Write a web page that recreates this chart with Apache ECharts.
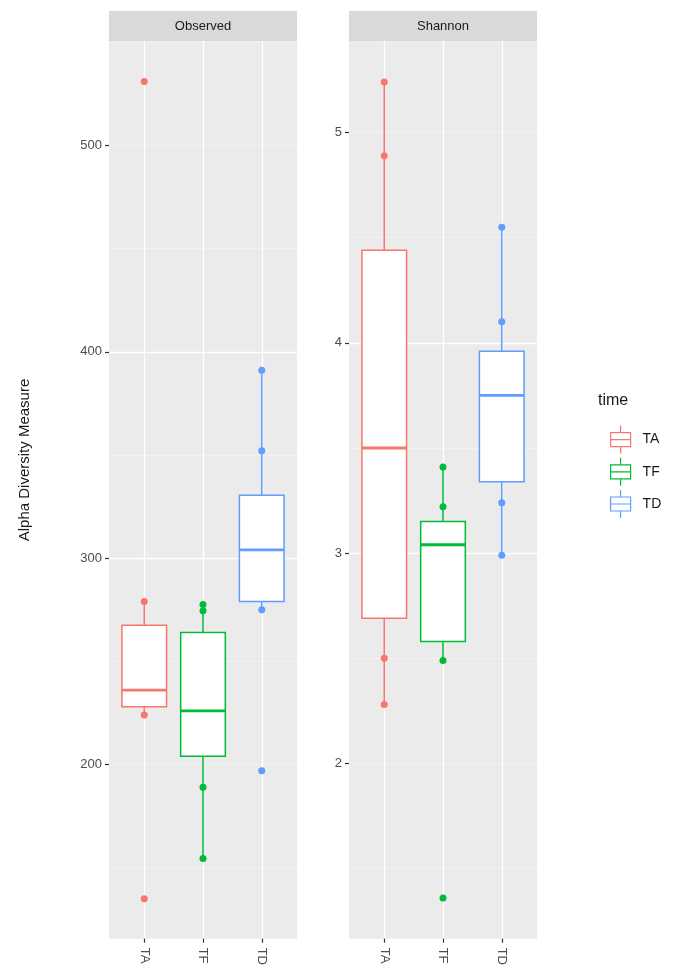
<!DOCTYPE html>
<html>
<head>
<meta charset="utf-8">
<title>Alpha Diversity</title>
<script src="https://cdn.jsdelivr.net/npm/echarts@6/dist/echarts.min.js"></script>
<style>html,body{margin:0;padding:0;background:#fff;}</style>
</head>
<body>
<div id="main" style="width:673px;height:968px;"></div>
<script type="text/javascript">
var groups = ['TA', 'TF', 'TD'];
var groupColors = ['#F8766D', '#00BA38', '#619CFF'];
var panels = ['Observed', 'Shannon'];

// box stats per group: [lower whisker, Q1, median, Q3, upper whisker]
var observedBoxes = [
    [224, 228, 236, 267.5, 279],
    [154.5, 204, 226, 264, 277.5],
    [275, 279, 304, 330.5, 391]
];
var observedPoints = [
    [531, 279, 224, 135],
    [277.5, 274.5, 189, 154.5],
    [391, 352, 275, 197]
];
var shannonBoxes = [
    [2.28, 2.69, 3.50, 4.44, 5.24],
    [2.49, 2.58, 3.04, 3.15, 3.41],
    [2.99, 3.34, 3.75, 3.96, 4.55]
];
var shannonPoints = [
    [5.24, 4.89, 2.50, 2.28],
    [3.41, 3.22, 2.49, 1.36],
    [4.55, 4.10, 3.24, 2.99]
];
var observedTicks = [200, 300, 400, 500];
var shannonTicks = [2, 3, 4, 5];
var observedRange = [115.6, 550.6];
var shannonRange = [1.167, 5.435];
var groupPos = [1, 2, 3];

var chartDom = document.getElementById('main');
var myChart = echarts.init(chartDom);
var option;

var FONT = '"Liberation Sans", Arial, sans-serif';
var panelLeft = [109, 349];
var panelWidth = 188;
var panelTop = 41;
var panelHeight = 902;

var boxes = [observedBoxes, shannonBoxes];
var points = [observedPoints, shannonPoints];
var ticks = [observedTicks, shannonTicks];
var ranges = [observedRange, shannonRange];

function renderBox(params, api) {
    var x = api.value(0);
    var lo = api.coord([x, api.value(1)]);
    var q1 = api.coord([x, api.value(2)]);
    var md = api.coord([x, api.value(3)]);
    var q3 = api.coord([x, api.value(4)]);
    var hi = api.coord([x, api.value(5)]);
    var half = api.size([0.76, 0])[0] / 2;
    var color = api.visual('color');
    return {
        type: 'group',
        children: [{
            type: 'line',
            shape: { x1: hi[0], y1: hi[1], x2: q3[0], y2: q3[1] },
            style: { stroke: color, lineWidth: 1.5 }
        }, {
            type: 'line',
            shape: { x1: q1[0], y1: q1[1], x2: lo[0], y2: lo[1] },
            style: { stroke: color, lineWidth: 1.5 }
        }, {
            type: 'rect',
            shape: { x: q3[0] - half, y: q3[1], width: half * 2, height: q1[1] - q3[1] },
            style: { fill: '#fff', stroke: color, lineWidth: 1.5 }
        }, {
            type: 'line',
            shape: { x1: md[0] - half, y1: md[1], x2: md[0] + half, y2: md[1] },
            style: { stroke: color, lineWidth: 2.8 }
        }]
    };
}

var grids = [], xAxes = [], yAxes = [], series = [], graphics = [];

for (var p = 0; p < panels.length; p++) {
    grids.push({
        left: panelLeft[p], top: panelTop, width: panelWidth, height: panelHeight,
        show: true, backgroundColor: '#EBEBEB', borderWidth: 0
    });
    xAxes.push({
        type: 'value', gridIndex: p, min: 0.4, max: 3.6,
        axisLine: { show: false },
        axisTick: { show: true, customValues: groupPos, length: 4, lineStyle: { color: '#333', width: 1.2 } },
        axisLabel: {
            customValues: groupPos, rotate: -90, margin: 9,
            color: '#4D4D4D', fontSize: 13, fontFamily: FONT,
            formatter: function (v) { return groups[Math.round(v) - 1]; }
        },
        splitLine: { show: true, lineStyle: { color: '#fff', width: 1.3 } }
    });
    // minor grid lines
    yAxes.push({
        type: 'value', gridIndex: p, position: 'left', min: ranges[p][0], max: ranges[p][1], splitNumber: 9,
        axisLine: { show: false }, axisTick: { show: false }, axisLabel: { show: false },
        splitLine: { show: true, showMinLine: false, showMaxLine: false, lineStyle: { color: '#F5F5F5', width: 0.7 } }
    });
    // major grid lines + labels
    yAxes.push({
        type: 'value', gridIndex: p, position: 'left', offset: 0, min: ranges[p][0], max: ranges[p][1],
        axisLine: { show: false },
        axisTick: { show: true, customValues: ticks[p], length: 4, lineStyle: { color: '#333', width: 1.2 } },
        axisLabel: { customValues: ticks[p], margin: 7, color: '#4D4D4D', fontSize: 13, fontFamily: FONT },
        splitLine: { show: true, showMinLine: false, showMaxLine: false, lineStyle: { color: '#fff', width: 1.3 } }
    });

    for (var g = 0; g < groups.length; g++) {
        series.push({
            type: 'custom', name: groups[g], xAxisIndex: p, yAxisIndex: p * 2 + 1,
            renderItem: renderBox,
            itemStyle: { color: groupColors[g] },
            encode: { x: 0, y: [1, 2, 3, 4, 5] },
            data: [[groupPos[g]].concat(boxes[p][g])],
            z: 2
        });
        series.push({
            type: 'scatter', name: groups[g], xAxisIndex: p, yAxisIndex: p * 2 + 1,
            symbolSize: 7,
            itemStyle: { color: groupColors[g], opacity: 1 },
            data: points[p][g].map(function (v) { return [groupPos[g], v]; }),
            z: 3
        });
    }

    graphics.push({
        type: 'rect', left: panelLeft[p], top: 11,
        shape: { width: panelWidth, height: 30 },
        style: { fill: '#D9D9D9' }
    });
    graphics.push({
        type: 'text', x: panelLeft[p] + panelWidth / 2, y: 26,
        style: { text: panels[p], fill: '#1A1A1A', font: '13px ' + FONT, textAlign: 'center', textVerticalAlign: 'middle' }
    });
}

graphics.push({
    type: 'text', x: 25, y: 460, rotation: Math.PI / 2,
    style: { text: 'Alpha Diversity Measure', fill: '#1A1A1A', font: '15px ' + FONT, textAlign: 'center', textVerticalAlign: 'middle' }
});
graphics.push({
    type: 'text', x: 598, y: 401,
    style: { text: 'time', fill: '#1A1A1A', font: '16px ' + FONT, textAlign: 'left', textVerticalAlign: 'middle' }
});

var keyIcon = 'path://M11,0L11,7M1,7L21,7L21,21L1,21ZM1,14L21,14M11,21L11,28';

option = {
    animation: false,
    backgroundColor: '#fff',
    grid: grids,
    xAxis: xAxes,
    yAxis: yAxes,
    legend: {
        orient: 'vertical', left: 605, top: 420,
        itemWidth: 22, itemHeight: 28, itemGap: 3,
        selectedMode: false,
        textStyle: { fontSize: 14, color: '#1A1A1A', fontFamily: FONT, padding: [0, 0, 0, 6] },
        data: groups.map(function (name, i) {
            return {
                name: name, icon: keyIcon,
                itemStyle: { color: 'rgba(0,0,0,0)', borderColor: groupColors[i], borderWidth: 1.2 }
            };
        })
    },
    graphic: graphics,
    series: series
};

option && myChart.setOption(option);
</script>
</body>
</html>
